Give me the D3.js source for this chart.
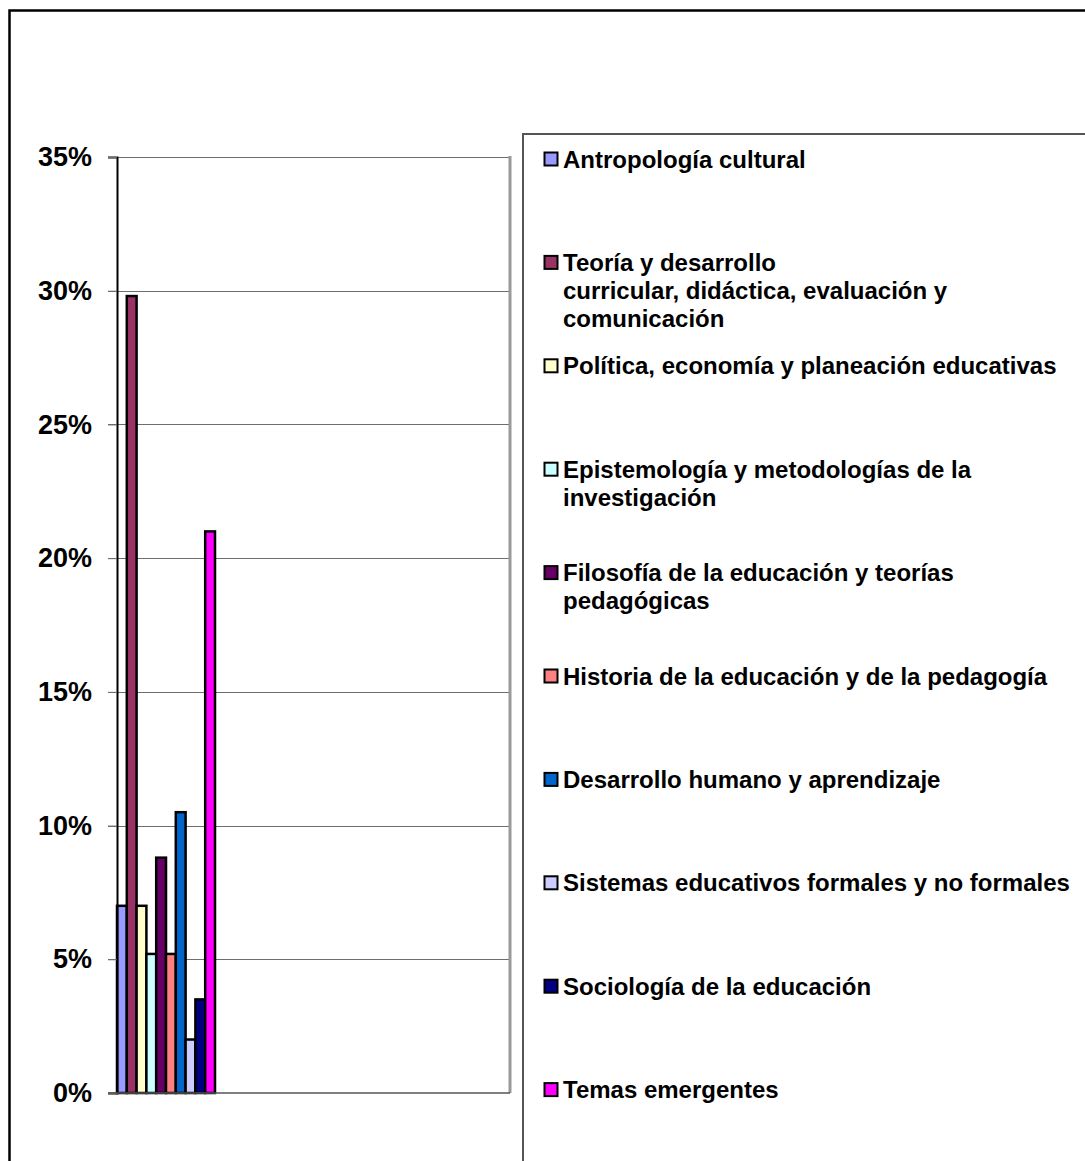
<!DOCTYPE html>
<html>
<head>
<meta charset="utf-8">
<script src="https://cdn.jsdelivr.net/npm/d3@7"></script>
<style>
  html, body { margin: 0; padding: 0; background: #fff; overflow: hidden; }
  svg { display: block; }
  text { font-family: "Liberation Sans", Arial, sans-serif; font-weight: bold; fill: #000; }
</style>
</head>
<body>
<svg id="chart" width="1085" height="1161"></svg>
<script>
// Series (one bar each), share of total
const categories = [
  "Antropología cultural",
  "Teoría y desarrollo\ncurricular, didáctica, evaluación y\ncomunicación",
  "Política, economía y planeación educativas",
  "Epistemología y metodologías de la\ninvestigación",
  "Filosofía de la educación y teorías\npedagógicas",
  "Historia de la educación y de la pedagogía",
  "Desarrollo humano y aprendizaje",
  "Sistemas educativos formales y no formales",
  "Sociología de la educación",
  "Temas emergentes"
];
const values = [0.070, 0.298, 0.070, 0.052, 0.088, 0.052, 0.105, 0.020, 0.035, 0.210];
const colors = ["#9999FF", "#993366", "#FFFFCC", "#CCFFFF", "#660066",
                "#FF8080", "#0066CC", "#CCCCFF", "#000080", "#FF00FF"];
const yTicks = [0, 0.05, 0.10, 0.15, 0.20, 0.25, 0.30, 0.35];

const svg = d3.select("#chart");

// Outer chart frame (runs past the right and bottom edges)
svg.append("rect")
  .attr("x", 9.5).attr("y", 10.5)
  .attr("width", 1200).attr("height", 1300)
  .attr("fill", "#fff").attr("stroke", "#000").attr("stroke-width", 2.5);

// Plot area
const plot = { left: 117, right: 510, top: 157, bottom: 1093 };
const y = d3.scaleLinear().domain([0, 0.35]).range([plot.bottom, plot.top]);
const x = d3.scaleBand().domain(d3.range(values.length)).range([plot.left, plot.left + 98]).padding(0);

// Gridlines with small outside tick marks
svg.append("g").selectAll("line").data(yTicks.filter(t => t > 0)).join("line")
  .attr("x1", plot.left - 9).attr("x2", plot.right)
  .attr("y1", d => Math.round(y(d)) + 0.5).attr("y2", d => Math.round(y(d)) + 0.5)
  .attr("stroke", "#6e6e6e").attr("stroke-width", 1.2);

// Right edge of plot area
svg.append("line")
  .attr("x1", plot.right).attr("x2", plot.right)
  .attr("y1", plot.top - 1).attr("y2", plot.bottom)
  .attr("stroke", "#999").attr("stroke-width", 3);

// Bars
svg.append("g").selectAll("rect").data(values).join("rect")
  .attr("x", (d, i) => x(i))
  .attr("y", d => y(d))
  .attr("width", x.bandwidth())
  .attr("height", d => plot.bottom - y(d))
  .attr("fill", (d, i) => colors[i])
  .attr("stroke", "#000").attr("stroke-width", 2.5);

// Value axis (left) and category baseline
const yAxis = d3.axisLeft(y).tickValues(yTicks).tickFormat(d3.format(".0%")).tickSize(9).tickPadding(16);
const ya = svg.append("g").attr("transform", `translate(${plot.left},0)`).call(yAxis);
ya.attr("font-family", null).attr("font-size", null);
ya.select(".domain").attr("stroke", "#000").attr("stroke-width", 2);
ya.selectAll(".tick line").attr("stroke", "#6e6e6e");
ya.selectAll(".tick text").style("font-size", "27px").attr("fill", "#000");

svg.append("line")
  .attr("x1", plot.left - 9).attr("x2", plot.right)
  .attr("y1", plot.bottom).attr("y2", plot.bottom)
  .attr("stroke", "#555").attr("stroke-width", 1.5);

// Legend box (runs past the right and bottom edges)
svg.append("rect")
  .attr("x", 523).attr("y", 134)
  .attr("width", 700).attr("height", 1200)
  .attr("fill", "none").attr("stroke", "#555").attr("stroke-width", 2);

const legendTop = 159, legendStep = 103.4, lineGap = 28;
const items = svg.append("g").selectAll("g").data(categories).join("g")
  .attr("transform", (d, i) => `translate(0,${legendTop + i * legendStep})`);

items.append("rect")
  .attr("x", 544.5).attr("y", -6.5)
  .attr("width", 13).attr("height", 13)
  .attr("fill", (d, i) => colors[i])
  .attr("stroke", "#000").attr("stroke-width", 2);

items.append("text")
  .style("font-size", "24px")
  .selectAll("tspan").data(d => d.split("\n")).join("tspan")
  .attr("x", 563)
  .attr("y", (d, j) => 8.6 + j * lineGap)
  .text(d => d);
</script>
</body>
</html>
